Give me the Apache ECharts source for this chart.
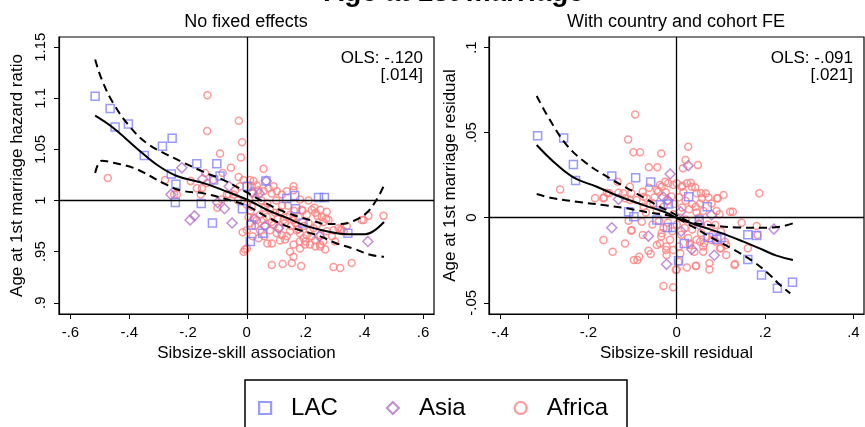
<!DOCTYPE html>
<html>
<head>
<meta charset="utf-8">
<script src="https://cdn.jsdelivr.net/npm/echarts@6/dist/echarts.min.js"></script>
<style>
  html, body { margin: 0; padding: 0; background: #fff; }
  #chart { width: 865px; height: 427px; }
</style>
</head>
<body>
<div id="chart"></div>
<script>
// tick values
var xTicksNoFE = [-0.6, -0.4, -0.2, 0, 0.2, 0.4, 0.6];
var yTicksNoFE = [0.9, 0.95, 1, 1.05, 1.1, 1.15];
var xTicksFE = [-0.4, -0.2, 0, 0.2, 0.4];
var yTicksFE = [-0.05, 0, 0.05, 0.1];

// panel 1: no fixed effects  [association, hazard ratio]
var lacNoFE = [[-0.516,1.102],[-0.465,1.090],[-0.448,1.072],[-0.403,1.075],[-0.349,1.044],[-0.287,1.053],[-0.254,1.061],[-0.257,1.026],[-0.241,1.016],[-0.243,0.998],[-0.170,1.036],[-0.155,0.997],[-0.117,0.978],[-0.113,1.020],[-0.102,1.036],[-0.091,1.024],[-0.015,0.992],[0.001,1.014],[0.015,0.976],[0.012,0.960],[0.054,0.968],[0.065,1.019],[0.136,1.002],[0.163,1.005],[0.166,0.992],[0.191,0.978],[0.244,1.003],[0.264,1.003],[0.344,0.968]];
var asiaNoFE = [[-0.221,1.032],[-0.258,1.006],[-0.193,0.981],[-0.178,0.985],[-0.150,1.021],[-0.099,0.998],[-0.076,0.992],[-0.050,0.978],[-0.060,1.014],[0.019,1.008],[0.066,1.019],[0.043,1.007],[0.027,0.982],[0.062,0.975],[0.108,0.973],[0.412,0.960],[0.247,0.965]];
var africaNoFE = [[-0.473,1.022],[-0.134,1.103],[-0.027,1.078],[-0.135,1.068],[-0.016,1.057],[-0.091,1.046],[-0.020,1.042],[-0.054,1.032],[-0.142,1.027],[-0.278,1.020],[-0.191,1.019],[-0.170,1.012],[-0.153,1.012],[-0.136,1.017],[-0.238,1.006],[-0.247,1.006],[-0.157,1.006],[-0.113,1.020],[-0.082,1.027],[-0.028,1.023],[-0.023,1.014],[-0.011,1.020],[-0.068,1.006],[-0.100,0.993],[-0.014,0.969],[-0.006,0.952],[-0.011,0.950],[-0.040,1.010],[-0.030,1.000],[-0.045,1.006],[-0.061,1.006],[-0.085,1.001],
  [0.011,1.020],[0.023,1.019],[0.034,1.015],[0.017,1.014],[0.040,1.010],[0.057,1.031],[0.057,1.009],[0.074,1.012],[0.091,1.014],[0.085,1.007],[0.102,1.009],[0.119,1.006],[0.136,1.009],[0.159,1.014],[0.159,1.010],[0.181,1.001],[0.210,1.000],[0.221,0.991],[0.233,0.988],[0.250,0.991],[0.272,0.989],[0.255,0.984],[0.204,0.986],[0.187,0.991],[0.176,0.984],[0.159,0.981],[0.147,0.986],[0.136,0.984],[0.125,0.981],[0.113,0.989],[0.096,0.988],[0.079,0.991],[0.068,0.984],[0.057,0.981],[0.045,0.986],[0.034,0.981],[0.023,0.983],[0.011,0.978],[0.000,0.971],[0.045,0.971],[0.079,0.971],[0.102,0.968],[0.119,0.966],[0.136,0.965],[0.147,0.970],[0.170,0.971],[0.181,0.968],[0.193,0.963],[0.204,0.966],[0.215,0.971],[0.227,0.973],[0.238,0.976],[0.261,0.979],[0.278,0.981],[0.295,0.971],[0.312,0.973],[0.323,0.971],[0.272,0.970],[0.250,0.966],[0.233,0.961],[0.215,0.957],[0.233,0.955],[0.250,0.957],[0.267,0.952],[0.159,0.957],[0.181,0.953],[0.198,0.957],[0.147,0.950],[0.159,0.945],[0.085,0.958],[0.113,0.961],[0.040,0.963],[0.000,0.953],[0.085,0.937],[0.122,0.938],[0.153,0.939],[0.185,0.936],[0.295,0.935],[0.318,0.934],[0.357,0.939],[0.397,0.981],[0.414,0.985],[0.465,0.985],[0.193,0.975],[0.091,0.976],[0.062,0.975],[0.028,0.975],[0.006,0.984],[0.017,0.994],[0.000,0.996],
  [0.130,0.978],[0.165,0.978],[0.175,0.972],[0.210,0.978],[0.190,0.990],[0.160,0.990],[0.140,0.995],[0.120,0.995],[0.100,1.000],[0.070,0.997],[0.060,0.993],[0.050,1.000],[0.030,1.003],[0.020,1.007],[0.085,0.979],[0.105,0.982],[0.130,0.962],[0.200,0.960],[0.220,0.965],[0.260,0.960],[0.290,0.965],[0.300,0.960],[0.340,0.975],[0.330,0.970],[0.240,0.985],[0.230,0.993],[0.270,0.982],[0.150,0.975],[0.180,0.960],[0.110,0.973],[0.060,0.965],[0.070,0.958],[0.020,0.965],[0.012,0.990],[0.391,0.981],[0.320,0.972],[0.250,0.955]];
var fitNoFE = [[-0.516,1.083],[-0.454,1.071],[-0.374,1.051],[-0.306,1.035],[-0.238,1.024],[-0.147,1.017],[-0.079,1.010],[0,1.001],[0.068,0.991],[0.136,0.983],[0.204,0.975],[0.272,0.970],[0.340,0.967],[0.403,0.967],[0.431,0.970],[0.467,0.979]];
var ciHiNoFE = [[-0.516,1.138],[-0.493,1.118],[-0.454,1.095],[-0.397,1.072],[-0.340,1.056],[-0.272,1.045],[-0.215,1.037],[-0.147,1.028],[-0.079,1.020],[0,1.008],[0.068,0.997],[0.136,0.988],[0.227,0.980],[0.272,0.977],[0.318,0.977],[0.363,0.980],[0.408,0.988],[0.442,1.001],[0.467,1.015]];
var ciLoNoFE = [[-0.516,1.027],[-0.493,1.039],[-0.454,1.037],[-0.386,1.032],[-0.329,1.024],[-0.284,1.017],[-0.227,1.010],[-0.147,1.007],[-0.079,1.002],[0,0.995],[0.068,0.984],[0.136,0.975],[0.181,0.971],[0.250,0.965],[0.306,0.958],[0.363,0.953],[0.420,0.947],[0.467,0.945]];

// panel 2: country and cohort FE  [residual, residual]
var lacFE = [[-0.315,0.0482],[-0.256,0.0468],[-0.234,0.0313],[-0.229,0.0219],[-0.147,0.0245],[-0.093,0.0235],[-0.059,0.0210],[-0.037,0.0076],[-0.109,0.0035],[-0.097,0.0006],[-0.045,-0.0014],[-0.021,-0.0057],[-0.008,-0.0057],[0.004,-0.0253],[0.027,0.0123],[0.017,-0.0151],[0.069,0.0065],[0.051,-0.0014],[0.072,-0.0116],[0.091,-0.0127],[0.100,-0.0116],[0.161,-0.0100],[0.181,-0.0104],[0.161,-0.0245],[0.192,-0.0337],[0.228,-0.0415],[0.262,-0.0380],[-0.019,0.0080]];
var asiaFE = [[-0.147,-0.0059],[-0.064,-0.0108],[-0.015,0.0257],[0.026,0.0306],[-0.021,0.0104],[-0.023,-0.0274],[0.034,-0.0186],[0.085,-0.0221],[0.079,0.0016],[0.009,0.0035],[0.220,-0.0067],[-0.132,0.0108],[-0.030,0.0120],[0.010,-0.0080],[0.050,-0.0040]];
var africaFE = [[-0.094,0.0607],[-0.110,0.0460],[-0.098,0.0384],[-0.083,0.0384],[0.026,0.0417],[0.020,0.0339],[0.048,0.0309],[-0.035,0.0378],[-0.063,0.0296],[-0.044,0.0296],[-0.264,0.0166],[-0.185,0.0114],[-0.166,0.0114],[-0.134,0.0212],[-0.121,0.0143],[0.187,0.0143],[0.106,0.0133],[0.121,0.0035],[0.127,0.0035],[0.147,-0.0029],[0.181,-0.0049],[0.183,-0.0102],[0.161,-0.0180],[0.131,-0.0278],[0.112,-0.0219],[0.098,-0.0180],[0.074,-0.0268],[0.074,-0.0304],[0.043,-0.0284],[0.023,-0.0292],[0,-0.0304],[-0.008,-0.0409],[-0.030,-0.0401],[-0.166,-0.0131],[-0.145,-0.0200],[-0.117,-0.0151],[-0.103,-0.0076],[-0.097,-0.0249],[-0.089,-0.0249],[-0.085,-0.0229],[-0.077,-0.0102],[-0.064,-0.0194],[-0.059,-0.0213],[-0.038,-0.0151],[-0.024,-0.0190],
  [-0.153,0.0143],[-0.106,0.0182],[-0.075,0.0123],[-0.063,0.0176],[-0.045,0.0163],[-0.038,0.0192],[-0.019,0.0202],[0,0.0202],[0.011,0.0182],[0.023,0.0202],[0.034,0.0182],[0.045,0.0143],[0.057,0.0114],[0.066,0.0143],[0.079,0.0084],[0.091,0.0114],[0.053,0.0084],[0.043,0.0065],
  [-0.165,0.0119],[-0.158,0.0147],[-0.132,0.0147],[-0.117,0.0114],[-0.103,0.0143],[-0.077,0.0153],[-0.068,0.0114],[-0.053,0.0084],[-0.042,0.0153],[-0.034,0.0182],[-0.026,0.0212],[-0.008,0.0192],[-0.075,0.0065],[-0.091,0.0104],[-0.106,0.0104],[-0.079,-0.0024],[-0.102,-0.0072],[-0.109,-0.0018],[-0.023,-0.0170],[-0.023,-0.0219],[-0.008,-0.0190],[-0.002,-0.0307],[-0.034,-0.0092],
  [-0.045,0.0045],[-0.030,0.0065],[-0.020,0.0100],[-0.012,0.0125],[-0.005,0.0080],[0.005,0.0120],[0.012,0.0060],[0.020,0.0100],[0.028,0.0050],[0.035,0.0080],[0.045,0.0030],[-0.040,-0.0020],[-0.030,-0.0060],[-0.020,-0.0030],[-0.010,-0.0080],[0,-0.0040],[0.010,-0.0100],[0.018,-0.0060],[0.026,-0.0120],[0.035,-0.0070],[0.045,-0.0130],[0.055,-0.0090],[0.062,-0.0150],[0.070,-0.0040],[0.080,-0.0100],[0.088,-0.0140],[0.100,-0.0080],[-0.055,-0.0040],[-0.050,0.0120],[-0.025,0.0150],[0.015,0.0150],[0.050,0.0000],[0.060,0.0040],[-0.015,-0.0130],[0.005,-0.0170],[0.030,-0.0160],[-0.035,-0.0110],[0.060,-0.0200],[0.040,-0.0200],[-0.008,0.0020],[0.008,0.0000],[-0.060,0.0080],[-0.070,0.0030],[0.020,-0.0010],[-0.045,-0.0160],[0.090,0.0040],
  [0.014,0.0290],[0.032,0.0206],[0.013,0.0188],[0.042,0.0178],[0.055,0.0143],[0.072,0.0119],[0.093,0.0114],[0.097,0.0020],[0.087,-0.0043],[0.100,-0.0180],[0.112,-0.0160],[0.132,-0.0272],[0.044,-0.0282],[0.053,-0.0141],[0.060,-0.0170],[0.030,-0.0151],[0.068,-0.0112],[0.079,-0.0131],[0.008,-0.0210],[0.004,-0.0259],[0.109,-0.0141]];
var fitFE = [[-0.317,0.0427],[-0.279,0.0329],[-0.234,0.0237],[-0.181,0.0182],[-0.128,0.0123],[-0.075,0.0074],[-0.023,0.0029],[0,-0.0002],[0.045,-0.0043],[0.098,-0.0088],[0.151,-0.0141],[0.196,-0.0190],[0.226,-0.0223],[0.263,-0.0249]];
var ciHiFE = [[-0.317,0.0715],[-0.287,0.0574],[-0.249,0.0427],[-0.204,0.0319],[-0.151,0.0231],[-0.098,0.0153],[-0.045,0.0074],[-0.008,0.0025],[0.030,-0.0024],[0.075,-0.0043],[0.136,-0.0057],[0.196,-0.0059],[0.234,-0.0053],[0.263,-0.0033]];
var ciLoFE = [[-0.317,0.0139],[-0.279,0.0114],[-0.226,0.0094],[-0.166,0.0074],[-0.113,0.0055],[-0.060,0.0029],[-0.008,0.0006],[0.030,-0.0043],[0.075,-0.0112],[0.128,-0.0186],[0.174,-0.0259],[0.211,-0.0337],[0.234,-0.0396],[0.257,-0.0445]];

var FONT = '"Liberation Sans", Arial, Helvetica, sans-serif';
var LAC_COLOR = '#8080ff';
var ASIA_COLOR = '#b473c8';
var AFRICA_COLOR = '#ff7f7f';

// stata style numbers: -.6, .95, 0
function stataNum(v) {
  if (v === 0) return '0';
  var s = String(+v.toFixed(3));
  return s.replace(/^(-?)0\./, '$1.');
}

function xAxisFor(idx, min, max, ticks, name) {
  return {
    type: 'value', gridIndex: idx, min: min, max: max,
    name: name, nameLocation: 'middle', nameGap: 29,
    nameTextStyle: { fontSize: 17, color: '#000', fontFamily: FONT },
    axisLine: { onZero: false, lineStyle: { color: '#000', width: 1.2 } },
    axisTick: { show: true, length: 5, customValues: ticks, lineStyle: { color: '#000', width: 1 } },
    axisLabel: { customValues: ticks, formatter: stataNum, fontSize: 15, color: '#000', fontFamily: FONT, margin: 11 },
    splitLine: { show: false }
  };
}
function yAxisFor(idx, min, max, ticks, name, gap, margin) {
  return {
    type: 'value', gridIndex: idx, min: min, max: max,
    name: name, nameLocation: 'middle', nameGap: gap,
    nameTextStyle: { fontSize: 17, color: '#000', fontFamily: FONT },
    axisLine: { onZero: false, lineStyle: { color: '#000', width: 1.2 } },
    axisTick: { show: true, length: 5, customValues: ticks, lineStyle: { color: '#000', width: 1 } },
    axisLabel: { customValues: ticks, formatter: stataNum, rotate: 90, fontSize: 15, color: '#000', fontFamily: FONT, margin: margin },
    splitLine: { show: false }
  };
}
function dots(name, data, idx, symbol, size, color) {
  return {
    type: 'scatter', name: name, xAxisIndex: idx, yAxisIndex: idx,
    data: data, symbol: symbol, symbolSize: size, z: 2,
    itemStyle: { color: 'rgba(0,0,0,0)', borderColor: color, borderWidth: 1.5 },
    emphasis: { disabled: true }
  };
}
function curve(data, idx, dashed, cross) {
  var s = {
    type: 'line', xAxisIndex: idx, yAxisIndex: idx, data: data,
    showSymbol: false, smooth: 0.4, z: 4, silent: true,
    lineStyle: { color: '#000', width: 2, type: dashed ? [8, 5] : 'solid' }
  };
  if (cross !== undefined) {
    // crosshair at x=0 and y=reference
    s.markLine = {
      silent: true, symbol: 'none', label: { show: false }, animation: false,
      lineStyle: { color: '#000', type: 'solid', width: 1.3 },
      data: [{ xAxis: 0 }, { yAxis: cross }]
    };
  }
  return s;
}
function label(text, x, y, size, align, bold) {
  return {
    type: 'text', x: x, y: y, silent: true,
    style: {
      text: text, fill: '#000',
      font: (bold ? 'bold ' : '') + size + 'px ' + FONT,
      align: align, textAlign: align, verticalAlign: 'middle', textVerticalAlign: 'middle'
    }
  };
}

var chart = echarts.init(document.getElementById('chart'), null, { renderer: 'canvas' });
chart.setOption({
  animation: false,
  backgroundColor: '#fff',
  grid: [
    { left: 59, top: 37, width: 375, height: 277, show: true, borderColor: '#000', borderWidth: 1.2, backgroundColor: 'transparent' },
    { left: 489, top: 37, width: 375, height: 277, show: true, borderColor: '#000', borderWidth: 1.2, backgroundColor: 'transparent' }
  ],
  xAxis: [
    xAxisFor(0, -0.639, 0.637, xTicksNoFE, 'Sibsize-skill association'),
    xAxisFor(1, -0.425, 0.424, xTicksFE, 'Sibsize-skill residual')
  ],
  yAxis: [
    yAxisFor(0, 0.889, 1.160, yTicksNoFE, 'Age at 1st marriage hazard ratio', 33, 11),
    yAxisFor(1, -0.0566, 0.1062, yTicksFE, 'Age at 1st marriage residual', 30, 10)
  ],
  legend: {
    data: [{ name: 'LAC', icon: 'rect' }, { name: 'Asia', icon: 'diamond' }, { name: 'Africa', icon: 'circle' }],
    left: 253, top: 391, itemWidth: 12, itemHeight: 12, itemGap: 48,
    selectedMode: false,
    itemStyle: { borderWidth: 2.2 },
    textStyle: { fontSize: 24, color: '#000', fontFamily: FONT, padding: [0, 0, 0, 15] }
  },
  graphic: [
    label('Age at 1st marriage', 454, -7, 28, 'center', true),
    label('No fixed effects', 246, 22, 18, 'center'),
    label('With country and cohort FE', 676, 22, 18, 'center'),
    label('OLS: -.120', 423, 58, 17, 'right'),
    label('[.014]', 423, 75, 17, 'right'),
    label('OLS: -.091', 853, 58, 17, 'right'),
    label('[.021]', 853, 75, 17, 'right'),
    { type: 'rect', x: 245, y: 380, silent: true, shape: { width: 382, height: 70 },
      style: { fill: 'none', stroke: '#000', lineWidth: 1.5 } }
  ],
  series: [
    dots('Africa', africaNoFE, 0, 'circle', 7, AFRICA_COLOR),
    dots('Asia', asiaNoFE, 0, 'diamond', 10, ASIA_COLOR),
    dots('LAC', lacNoFE, 0, 'rect', 8, LAC_COLOR),
    curve(fitNoFE, 0, false, 1),
    curve(ciHiNoFE, 0, true),
    curve(ciLoNoFE, 0, true),
    dots('Africa', africaFE, 1, 'circle', 7, AFRICA_COLOR),
    dots('Asia', asiaFE, 1, 'diamond', 10, ASIA_COLOR),
    dots('LAC', lacFE, 1, 'rect', 8, LAC_COLOR),
    curve(fitFE, 1, false, 0),
    curve(ciHiFE, 1, true),
    curve(ciLoFE, 1, true)
  ]
});
</script>
</body>
</html>
